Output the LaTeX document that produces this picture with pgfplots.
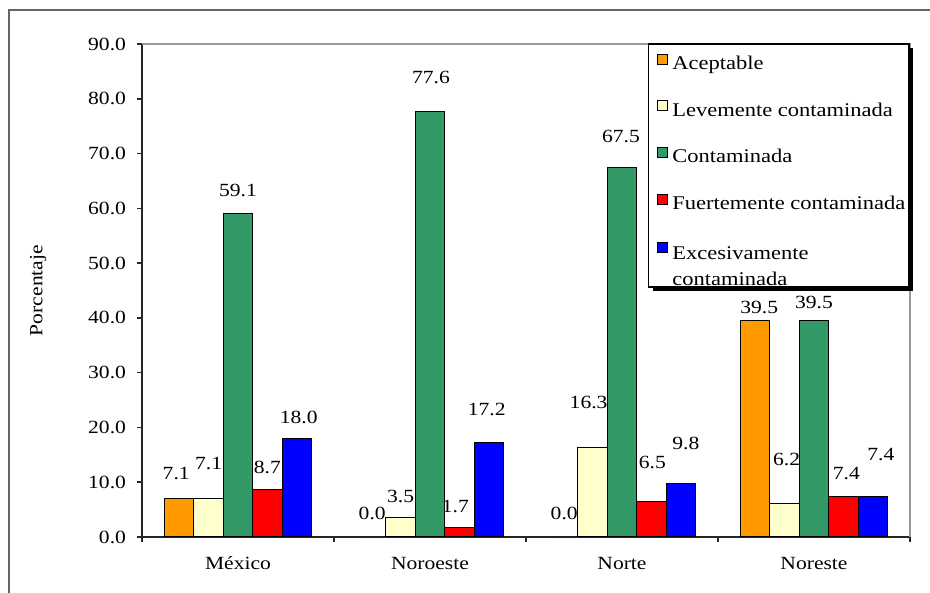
\documentclass[border=0pt]{standalone}
\usepackage{fontspec}
\setmainfont[FakeStretch=1.16]{Liberation Serif}
\usepackage{pgfplots}
\pgfplotsset{compat=1.18}
\usepackage{pgfplotstable}

\definecolor{cAcep}{RGB}{255,153,0}
\definecolor{cLeve}{RGB}{255,255,204}
\definecolor{cCont}{RGB}{51,153,102}
\definecolor{cFuer}{RGB}{255,0,0}
\definecolor{cExce}{RGB}{0,0,255}
\newcommand\cf{\fontsize{9.3}{11.2}\selectfont}
\newcommand\lf{\fontsize{9.7}{11.6}\selectfont}

% x = region (0 Mexico, 1 Noroeste, 2 Norte, 3 Noreste), dy/dx = label offset in pt
\pgfplotstableread{
x y dy dx
0 7.1 12.5 -1.5
1 0.0 12 0.5
2 0.0 12 0.5
3 39.5 6.5 2
}\aceptable
\pgfplotstableread{
x y dy dx
0 7.1 17.5 0
1 3.5 10.5 0
2 16.3 22.5 -2
3 6.2 22 1
}\levemente
\pgfplotstableread{
x y dy dx
0 59.1 11.5 0
1 77.6 17 0.5
2 67.5 15.5 -0.5
3 39.5 9 0
}\contaminada
\pgfplotstableread{
x y dy dx
0 8.7 11 0
1 1.7 10.5 -2
2 6.5 19.5 0.5
3 7.4 11.5 1.5
}\fuertemente
\pgfplotstableread{
x y dy dx
0 18.0 10.5 1
1 17.2 16.5 -1
2 9.8 20 2.5
3 7.4 21 4
}\excesivamente

\pgfplotsset{
  /pgf/number format/fixed,
  /pgf/number format/fixed zerofill,
  /pgf/number format/precision=1,
  /pgf/number format/assume math mode=true,
}

\begin{document}
\begin{tikzpicture}
\useasboundingbox (-71pt,-28pt) rectangle (394pt,268.5pt);
\draw[black!60, line width=1pt] (-66.5pt,-30pt) -- (-66.5pt,263.5pt) -- (396pt,263.5pt);
\begin{axis}[
  scale only axis, width=384pt, height=246.5pt,
  xmin=-0.5, xmax=3.5, ymin=0, ymax=90,
  enlargelimits=false, clip=false,
  ybar=0pt, bar width=14.7pt,
  axis x line*=bottom, axis y line*=left,
  axis line style={black!85, line width=0.8pt},
  tick style={black!85, line width=0.8pt},
  tick align=outside, major tick length=2.5pt,
  xtick={-0.5,0.5,1.5,2.5,3.5}, xticklabels={},
  extra x ticks={0,1,2,3},
  extra x tick labels={México,Noroeste,Norte,Noreste},
  extra x tick style={major tick length=0pt, xticklabel style={yshift=-6.5pt}},
  ytick={0,10,...,90},
  tick label style={font=\cf, text=black},
  yticklabel style={xshift=-2pt},
  ylabel={Porcentaje},
  ylabel style={font=\cf, at={(axis description cs:-0.135,0.5)}, anchor=center},
  nodes near coords,
  visualization depends on={\thisrow{dy} \as \dy},
  visualization depends on={\thisrow{dx} \as \dx},
  nodes near coords style={font=\cf, text=black, anchor=center, yshift=\dy pt, xshift=\dx pt},
  legend style={at={(rel axis cs:0.660,1)}, anchor=north west, font=\lf,
    draw=none, fill=none, inner xsep=4pt, inner ysep=3.7pt,
    row sep=11.2pt, cells={anchor=base west}},
  legend cell align=left,
  legend image code/.code={\draw[#1, line width=0.5pt] (0pt,0pt) rectangle (5pt,5pt);},
]
\addplot[fill=cAcep, draw=black, line width=0.5pt] table[x=x,y=y] {\aceptable};
\addplot[fill=cLeve, draw=black, line width=0.5pt] table[x=x,y=y] {\levemente};
\addplot[fill=cCont, draw=black, line width=0.5pt] table[x=x,y=y] {\contaminada};
\addplot[fill=cFuer, draw=black, line width=0.5pt] table[x=x,y=y] {\fuertemente};
\addplot[fill=cExce, draw=black, line width=0.5pt] table[x=x,y=y] {\excesivamente};
\legend{Aceptable, Levemente contaminada, Contaminada, Fuertemente contaminada,
  {\begin{tabular}[t]{@{}l@{}}Excesivamente\\[1.5pt]contaminada\end{tabular}}}
% frame lines and legend box with its shadow
\draw[black!40, line width=0.8pt] (rel axis cs:0,1) -- (rel axis cs:1,1) -- (rel axis cs:1,0);
\fill[black] ([shift={(2pt,-2pt)}]rel axis cs:0.660,0.507) rectangle ([shift={(2pt,-2pt)}]rel axis cs:0.9987,1);
\draw[black, line width=0.6pt, fill=white] (rel axis cs:0.660,0.507) rectangle (rel axis cs:0.9987,1);
\end{axis}
\end{tikzpicture}
\end{document}
